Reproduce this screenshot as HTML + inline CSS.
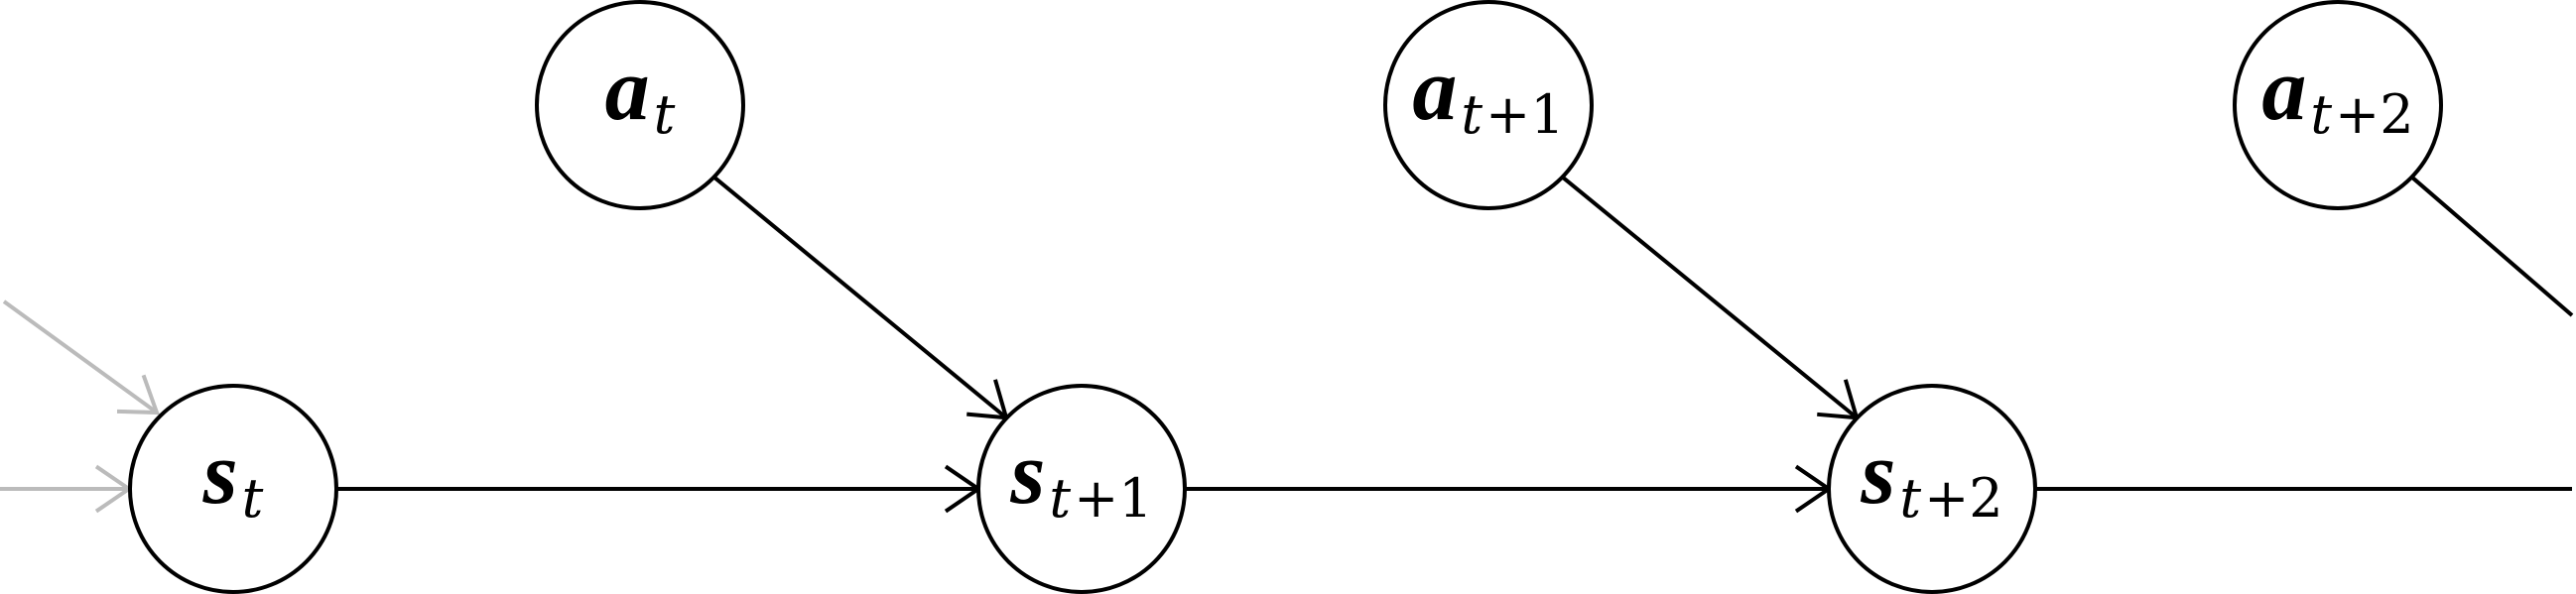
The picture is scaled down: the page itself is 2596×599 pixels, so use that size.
<!DOCTYPE html>
<html><head><meta charset="utf-8"><style>
html,body{margin:0;padding:0;background:#fff;}
svg{display:block;}
.main{font-family:"Liberation Serif",serif;font-style:italic;font-weight:bold;font-size:90px;}
.sub{font-family:"DejaVu Serif","Liberation Serif",serif;font-size:54px;}
</style></head><body>
<svg width="2596" height="599" viewBox="0 0 2596 599">
<g id="edges" fill="none" stroke-width="4"></g>
<g id="nodes"></g>
</svg>
<script>
const states = ["s", "s", "s"];
const stateSubs = ["", "+1", "+2"];
const stateX = [235, 1090, 1947];
const actionX = [645, 1500, 2356];
const NS = "http://www.w3.org/2000/svg";
const R = 104, SY = 493, AY = 106;
const edges = document.getElementById("edges"), nodes = document.getElementById("nodes");
function line(x1,y1,x2,y2,color,name,arrow){
  const g=document.createElementNS(NS,"g");
  
  
  const l=document.createElementNS(NS,"line");
  l.setAttribute("x1",x1);l.setAttribute("y1",y1);l.setAttribute("x2",x2);l.setAttribute("y2",y2);
  l.setAttribute("stroke",color);g.appendChild(l);
  if(arrow){
    const a=Math.atan2(y2-y1,x2-x1),L=40,sp=0.6;
    const p=document.createElementNS(NS,"polyline");
    p.setAttribute("points",(x2-L*Math.cos(a-sp))+","+(y2-L*Math.sin(a-sp))+" "+x2+","+y2+" "+(x2-L*Math.cos(a+sp))+","+(y2-L*Math.sin(a+sp)));
    p.setAttribute("stroke",color);g.appendChild(p);
  }
  edges.appendChild(g);
}
function node(cx,cy,letter,sub,name){
  const g=document.createElementNS(NS,"g");
  
  
  const c=document.createElementNS(NS,"circle");
  c.setAttribute("cx",cx);c.setAttribute("cy",cy);c.setAttribute("r",R);
  c.setAttribute("fill","#fff");c.setAttribute("stroke","#000");c.setAttribute("stroke-width","4");
  g.appendChild(c);
  const t=document.createElementNS(NS,"text");
  t.setAttribute("x",cx);t.setAttribute("y",cy+14);t.setAttribute("text-anchor","middle");
  const m=document.createElementNS(NS,"tspan");m.setAttribute("class","main");m.textContent=letter;t.appendChild(m);
  const s1=document.createElementNS(NS,"tspan");s1.setAttribute("class","sub");s1.setAttribute("font-style","italic");s1.setAttribute("dy","14");s1.setAttribute("dx","4");s1.textContent="t";t.appendChild(s1);
  if(sub){const s2=document.createElementNS(NS,"tspan");s2.setAttribute("class","sub");s2.setAttribute("dx","3");s2.textContent=sub;t.appendChild(s2);}
  g.appendChild(t);
  nodes.appendChild(g);
}
line(0,SY,130,SY,"#bbb","incoming-state-arrow",true);
line(4,304,158,416,"#bbb","incoming-diagonal-arrow",true);
for(let i=0;i<stateX.length;i++){
  const nx = i+1<stateX.length ? stateX[i+1]-R : 2592;
  line(stateX[i]+R,SY,nx,SY,"#000","state-transition-"+i,i+1<stateX.length);
  const ax=actionX[i], sx = i+1<stateX.length ? stateX[i+1] : null;
  const a0x=ax+R*0.72,a0y=AY+R*0.7;
  if(sx!==null){
    line(a0x,a0y,sx-R*0.73,SY-R*0.69,"#000","action-edge-"+i,true);
  } else {
    line(a0x,a0y,2592,318,"#000","action-edge-"+i,false);
  }
}
for(let i=0;i<stateX.length;i++){
  node(stateX[i],SY,states[i],stateSubs[i],"state-node-"+i);
  node(actionX[i],AY,"a",stateSubs[i],"action-node-"+i);
}
</script>
</body></html>
